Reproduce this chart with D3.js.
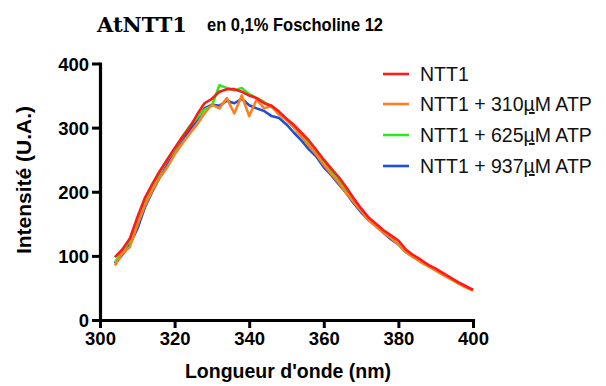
<!DOCTYPE html>
<html>
<head>
<meta charset="utf-8">
<script src="https://cdn.jsdelivr.net/npm/d3@7"></script>
<style>
  body { margin: 0; background: #fff; }
  text { font-family: "Liberation Sans", Arial, sans-serif; }
</style>
</head>
<body>
<script>
// wavelengths (nm), 2 nm steps
var wavelengths = d3.range(304, 401, 2)

// intensities
var ntt1 = [98, 110, 127, 160, 190, 212, 232, 250, 268, 285, 300, 320, 338, 345, 356, 360, 360, 356, 350, 346,
  338, 334, 325, 314, 304, 292, 280, 265, 250, 236, 223, 207, 190, 174, 160, 150, 140, 132, 124, 110,
  101, 94, 86, 80, 73, 66, 59, 53, 47]
var atp310 = [85, 104, 114, 148, 178, 202, 222, 238, 258, 275, 290, 305, 322, 336, 330, 346, 322, 350, 318, 344,
  330, 334, 320, 312, 300, 286, 272, 258, 242, 228, 214, 198, 184, 170, 156, 146, 136, 128, 118, 106,
  98, 90, 84, 77, 70, 64, 57, 51, 46]
var atp625 = [90, 106, 124, 152, 183, 206, 230, 250, 265, 285, 302, 315, 328, 334, 366, 362, 358, 362, 352, 346,
  340, 332, 322, 312, 300, 288, 275, 262, 248, 232, 218, 204, 186, 172, 158, 148, 138, 130, 118, 106,
  98, 92, 84, 78, 72, 64, 58, 52, 47]
var atp937 = [88, 102, 118, 142, 175, 200, 222, 242, 260, 280, 296, 312, 330, 336, 334, 342, 338, 345, 335, 330,
  326, 318, 315, 305, 292, 280, 266, 255, 238, 226, 212, 198, 182, 168, 156, 146, 136, 126, 118, 106,
  99, 92, 85, 78, 71, 64, 58, 52, 47]

var seriesNames = ['NTT1', 'NTT1 + 310', 'NTT1 + 625', 'NTT1 + 937']
var seriesColors = ['#ff1a1a', '#ff7f1e', '#2fe81f', '#1f4fd6']
var xTicks = [300, 320, 340, 360, 380, 400]
var yTicks = [0, 100, 200, 300, 400]

var width = 606
var height = 386

var svg = d3.select('body').append('svg')
  .attr('width', width)
  .attr('height', height)

var x = d3.scaleLinear().domain([300, 400]).range([100, 473])
var y = d3.scaleLinear().domain([0, 400]).range([320, 63.5])

// title
svg.append('text')
  .attr('x', 97).attr('y', 32)
  .style('font-family', '"DejaVu Serif", serif')
  .style('font-weight', 'bold')
  .style('font-size', '21px')
  .text('AtNTT1')
svg.append('text')
  .attr('x', 207).attr('y', 31)
  .attr('textLength', 176)
  .attr('lengthAdjust', 'spacingAndGlyphs')
  .style('font-weight', 'bold')
  .style('font-size', '18.5px')
  .text('en 0,1% Foscholine 12')

// curves, red drawn last so it sits on top
var line = d3.line()
  .x((d, i) => x(wavelengths[i]))
  .y(d => y(d))

var series = [ntt1, atp310, atp625, atp937]
var drawOrder = [3, 2, 1, 0]
drawOrder.forEach(k => {
  svg.append('path')
    .attr('d', line(series[k]))
    .attr('fill', 'none')
    .attr('stroke', seriesColors[k])
    .attr('stroke-width', 2.6)
    .attr('stroke-linejoin', 'round')
})

// axes
var xAxis = svg.append('g')
  .attr('transform', 'translate(0,' + y(0) + ')')
  .call(d3.axisBottom(x).tickValues(xTicks).tickSize(8).tickPadding(4).tickSizeOuter(0))
var yAxis = svg.append('g')
  .attr('transform', 'translate(' + x(300) + ',0)')
  .call(d3.axisLeft(y).tickValues(yTicks).tickSize(8).tickPadding(3).tickSizeOuter(0))

;[xAxis, yAxis].forEach(g => {
  g.select('.domain').attr('stroke', '#000').attr('stroke-width', 3.2).attr('stroke-linecap', 'square')
  g.selectAll('.tick line').attr('stroke', '#000').attr('stroke-width', 3)
  g.selectAll('.tick text')
    .attr('fill', '#000')
    .style('font-family', '"Liberation Sans", Arial, sans-serif')
    .style('font-weight', 'bold')
    .style('font-size', '18.5px')
})
yAxis.selectAll('.tick text').attr('dy', '0.36em')

// axis titles
svg.append('text')
  .attr('x', 288).attr('y', 378)
  .attr('text-anchor', 'middle')
  .style('font-weight', 'bold')
  .style('font-size', '19.5px')
  .text("Longueur d'onde (nm)")
svg.append('text')
  .attr('transform', 'translate(31,180) rotate(-90)')
  .attr('text-anchor', 'middle')
  .style('font-weight', 'bold')
  .style('font-size', '21px')
  .text('Intensité (U.A.)')

// legend
var legendY = [74, 104, 135, 166]
var legend = svg.selectAll('g.legend')
  .data(seriesNames).enter()
  .append('g')
  .attr('class', 'legend')
  .attr('transform', (d, i) => 'translate(383,' + legendY[i] + ')')

legend.append('line')
  .attr('x1', 0).attr('x2', 26)
  .attr('stroke', (d, i) => seriesColors[i])
  .attr('stroke-width', 2.6)

var legendText = legend.append('text')
  .attr('x', 37).attr('y', 7)
  .style('font-size', '19.5px')
  .attr('fill', '#111')

legendText.each(function (d, i) {
  var t = d3.select(this)
  if (i === 0) {
    t.text(d)
    return
  }
  t.append('tspan').text(d)
  t.append('tspan').style('text-decoration', 'underline').text('µ')
  t.append('tspan').text('M ATP')
})
</script>
</body>
</html>
